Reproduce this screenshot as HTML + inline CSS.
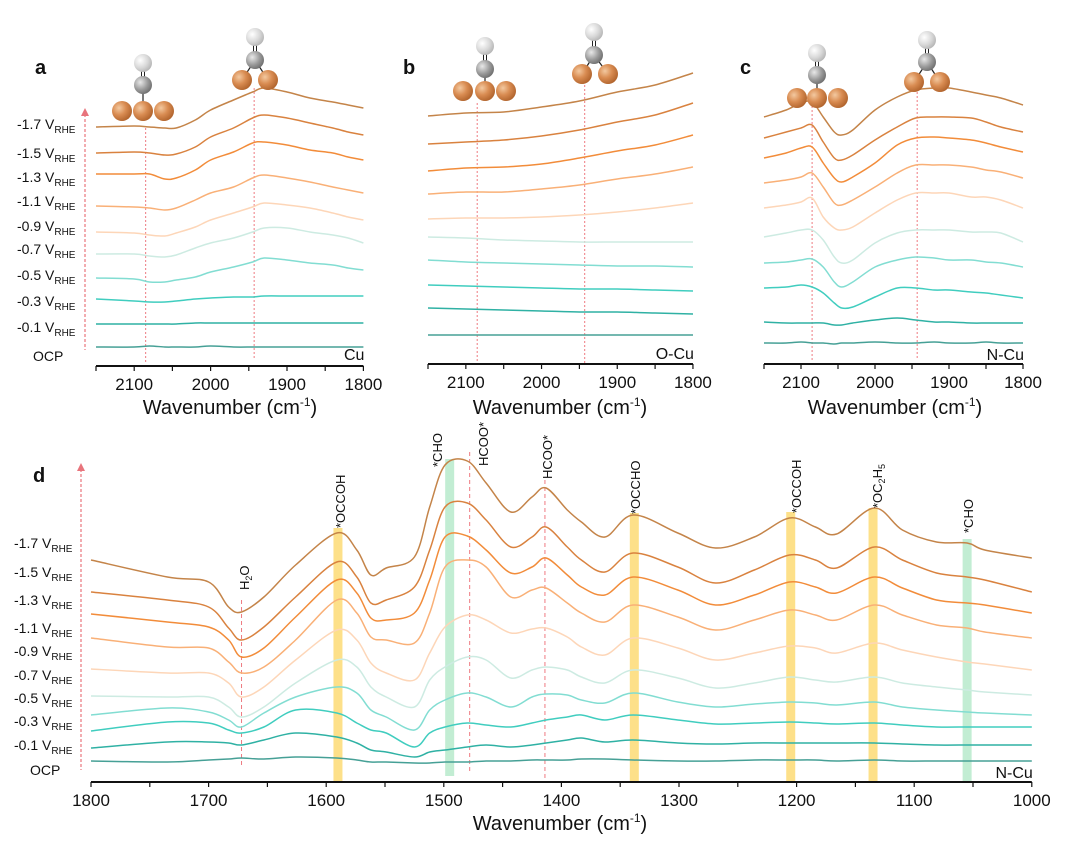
<!DOCTYPE html>
<html><head><meta charset="utf-8">
<style>
html,body{margin:0;padding:0;background:#fff;}
svg{display:block;font-family:"Liberation Sans",Arial,sans-serif;}
</style></head>
<body>
<svg id="fig" width="1080" height="844" viewBox="0 0 1080 844" xmlns="http://www.w3.org/2000/svg">
<defs>
<radialGradient id="cuG" cx="0.35" cy="0.35" r="0.7"><stop offset="0" stop-color="#f3c9a0"/><stop offset="0.5" stop-color="#d98c52"/><stop offset="1" stop-color="#b0632c"/></radialGradient>
<radialGradient id="cG" cx="0.35" cy="0.35" r="0.7"><stop offset="0" stop-color="#e8e8e8"/><stop offset="0.6" stop-color="#9a9a9a"/><stop offset="1" stop-color="#6e6e6e"/></radialGradient>
<radialGradient id="oG" cx="0.35" cy="0.35" r="0.7"><stop offset="0" stop-color="#ffffff"/><stop offset="0.6" stop-color="#d8d8d8"/><stop offset="1" stop-color="#b5b5b5"/></radialGradient>
</defs>
<g id="layer"></g>
</svg>
<script>
// ---------- DATA ----------
const seriesNames = ["-1.7","-1.5","-1.3","-1.1","-0.9","-0.7","-0.5","-0.3","-0.1","OCP"];
const seriesColors = ["#c48449","#d9823f","#f28c3a","#f9b077","#fdd6b8","#cdebe2","#82ddd2","#40cdbf","#2fb1a4","#46a096"];

// panel a (Cu)
const aWaves = [2150,2100,2080,2060,2045,2020,2000,1970,1945,1930,1900,1870,1840,1820,1800];
const aS17 = [239,240,239,238,238,246,256,266,274,278,274,268,264,261,258];
const aS15 = [213,214,213,211,212,219,229,238,248,251,248,243,238,234,231];
const aS13 = [192,192,192,187,188,196,206,214,223,224,221,216,213,209,206];
const aS11 = [160,159,158,156,158,166,173,179,188,191,188,184,179,176,173];
const aS09 = [134,133,131,130,133,139,146,153,159,163,161,158,153,149,146];
const aS07 = [112,112,110,109,111,118,123,128,134,138,138,134,131,128,123];
const aS05 = [88,87,84,84,86,89,94,99,104,108,106,103,101,98,96];
const aS03 = [67,65,64,64,65,67,68,69,69,70,70,70,70,70,70];
const aS01 = [42,42,42,42,42,43,43,43,43,43,43,43,43,43,43];
const aOCP = [19,19,20,19,19,19,20,19,19,19,19,19,19,19,19];

// panel b (O-Cu)
const bWaves = [2150,2100,2050,2000,1950,1900,1850,1800];
const bS17 = [248,251,252,257,263,272,279,291];
const bS15 = [220,222,224,228,234,242,249,261];
const bS13 = [193,196,197,200,206,213,219,229];
const bS11 = [170,172,172,175,179,185,190,197];
const bS09 = [145,146,146,147,149,152,156,161];
const bS07 = [127,126,124,123,122,122,122,122];
const bS05 = [104,102,101,100,99,98,98,97];
const bS03 = [79,78,77,76,75,75,74,73];
const bS01 = [56,55,54,53,52,52,51,50];
const bOCP = [29,29,29,29,29,29,29,29];

// panel c (N-Cu)
const cWaves = [2150,2120,2100,2085,2070,2055,2045,2030,2000,1970,1945,1920,1900,1870,1850,1830,1800];
const cS17 = [247,254,261,262,247,232,229,234,254,267,274,276,276,272,269,266,259];
const cS15 = [226,232,236,239,222,206,204,209,224,237,246,247,247,246,242,237,232];
const cS13 = [206,211,216,217,201,186,182,187,201,219,226,227,226,224,221,217,212];
const cS11 = [181,184,187,191,177,161,159,164,177,191,199,199,199,197,194,192,186];
const cS09 = [156,159,162,166,147,136,134,137,151,164,171,171,171,167,167,164,156];
const cS07 = [127,131,134,134,124,107,101,104,121,131,134,134,134,132,132,131,122];
const cS05 = [101,102,104,105,97,82,77,82,97,104,107,106,104,104,102,101,97];
const cS03 = [76,77,79,77,71,61,56,57,67,76,76,74,74,72,71,69,66];
const cS01 = [42,41,41,41,41,39,39,41,44,46,44,42,42,41,41,41,41];
const cOCP = [21,21,22,21,21,20,21,21,22,21,21,22,21,21,22,21,21];

// panel d (N-Cu, 1800-1000)
const dWaves = [1800,1735,1700,1683,1672,1653,1626,1591,1574,1562,1549,1525,1512,1499,1480,1464,1443,1425,1413,1395,1383,1363,1339,1301,1269,1236,1206,1184,1166,1134,1110,1081,1055,1040,1000];
const dS17 = [222,205,200,175,170,185,217,249,232,207,214,225,275,317,321,299,270,285,294,272,260,245,267,249,234,245,264,255,248,274,252,240,239,232,224];
const dS15 = [190,182,175,154,142,155,185,220,205,179,182,195,232,275,279,262,235,245,255,235,222,210,229,215,199,212,227,222,214,235,222,209,205,202,190];
const dS13 = [168,160,155,142,125,134,165,202,189,164,162,169,202,245,246,232,209,215,224,207,195,187,205,192,177,187,200,195,189,205,194,182,179,177,169];
const dS11 = [144,135,134,120,109,115,142,182,169,145,142,139,169,215,222,215,185,192,194,179,169,160,177,165,152,162,172,167,162,177,167,157,154,150,144];
const dS09 = [113,109,109,99,85,95,122,152,142,119,109,102,129,155,167,162,149,153,154,145,135,127,144,134,122,129,136,134,129,139,132,125,120,118,112];
const dS07 = [86,85,85,75,65,75,99,122,115,95,85,75,102,115,125,122,104,112,115,112,105,99,112,104,94,99,105,102,100,105,99,95,92,90,87];
const dS05 = [67,74,70,62,55,69,85,95,89,72,65,52,72,82,89,85,75,85,88,87,82,79,89,80,75,78,80,79,77,80,75,72,70,69,67];
const dS03 = [51,60,59,52,49,55,72,69,59,52,49,35,49,55,59,57,55,59,62,65,67,62,67,62,58,59,60,59,58,59,57,55,55,55,55];
const dS01 = [34,40,40,39,37,42,49,45,39,32,30,25,30,32,35,37,35,37,39,42,44,40,42,39,38,39,39,39,39,39,38,37,37,37,37];
const dOCP = [21,20,22,23,24,23,25,24,22,20,20,19,19,20,20,21,21,22,22,22,23,23,22,21,21,22,22,22,21,22,21,21,21,21,21];

const topTicks = [2100,2000,1900,1800];
const dTicks = [1800,1700,1600,1500,1400,1300,1200,1100,1000];
const dBandsOrange = [1590,1338,1205,1135];
const dBandsGreen = [1495,1055];
const dDashed = [1672,1478,1414];

// ---------- DRAWING ----------
const NS = "http://www.w3.org/2000/svg";
const layer = document.getElementById("layer");
function mk(tag, attrs, parent){
  const e = document.createElementNS(NS, tag);
  for (const k in attrs) e.setAttribute(k, attrs[k]);
  (parent||layer).appendChild(e);
  return e;
}
function smoothPath(pts){
  let d = "M" + pts[0][0].toFixed(1) + "," + pts[0][1].toFixed(1);
  for (let i=0;i<pts.length-1;i++){
    const p0 = pts[Math.max(0,i-1)], p1 = pts[i], p2 = pts[i+1], p3 = pts[Math.min(pts.length-1,i+2)];
    const c1x = p1[0]+(p2[0]-p0[0])/6, c1y = p1[1]+(p2[1]-p0[1])/6;
    const c2x = p2[0]-(p3[0]-p1[0])/6, c2y = p2[1]-(p3[1]-p1[1])/6;
    d += " C"+c1x.toFixed(1)+","+c1y.toFixed(1)+" "+c2x.toFixed(1)+","+c2y.toFixed(1)+" "+p2[0].toFixed(1)+","+p2[1].toFixed(1);
  }
  return d;
}

function panel(cfg){
  const g = mk("g", {});
  
  
  const xf = w => cfg.x0 + (cfg.w0 - w) * cfg.kx;
  const yf = v => cfg.axisY - v;
  // bands
  (cfg.orange||[]).forEach(b => {
    const r = mk("rect", {x: xf(b)-4.5, y: b===1590?528:(b===1338?513:(b===1205?512:508)), width: 9, height: 0, fill:"#fcd561", opacity:0.75}, g);
    r.setAttribute("height", cfg.axisY - parseFloat(r.getAttribute("y")));
    
    
  });
  (cfg.green||[]).forEach(b => {
    const top = b===1495?459:539;
    const r = mk("rect", {x: xf(b)-4.5, y: top, width: 9, height: (b===1495?cfg.axisY-6:cfg.axisY)-top, fill:"#a8e5c0", opacity:0.7}, g);
    
    
  });
  // dashed reference lines
  (cfg.dashed||[]).forEach(ln => {
    const l = mk("line", {x1: xf(ln[0]), x2: xf(ln[0]), y1: ln[1], y2: ln[2], stroke:"#ee7a80", "stroke-width":1, "stroke-dasharray": cfg.dash||"2,2"}, g);
    
    
  });
  // series
  cfg.series.forEach((vals, i) => {
    const pts = cfg.waves.map((w, j) => [xf(w), yf(vals[j])]);
    const p = mk("path", {d: smoothPath(pts), fill:"none", stroke: seriesColors[i], "stroke-width": 1.5}, g);
    
    
  });
  // axis
  const ax = mk("line", {x1: xf(cfg.wStart), x2: xf(cfg.wEnd), y1: cfg.axisY, y2: cfg.axisY, stroke:"#111", "stroke-width":2}, g);
  
  
  for (let w = cfg.wStart; w >= cfg.wEnd; w -= 50){
    const t = mk("line", {x1: xf(w), x2: xf(w), y1: cfg.axisY, y2: cfg.axisY + 5, stroke:"#111", "stroke-width":1.2}, g);
    
    
  }
  cfg.ticks.forEach(w => {
    const t = mk("text", {x: xf(w), y: cfg.axisY + 24, "text-anchor":"middle", "font-size": 17, fill:"#111"}, g);
    t.textContent = w;
    
    
  });
  const tt = mk("text", {x: cfg.titleX, y: cfg.titleY, "text-anchor":"middle", "font-size": 20, fill:"#111"}, g);
  
  
  tt.appendChild(document.createTextNode("Wavenumber (cm"));
  const sup = mk("tspan", {"font-size": 12, dy: -8}, tt); sup.textContent = "-1";
  const cl = mk("tspan", {dy: 8}, tt); cl.textContent = ")";
  // sample label
  const sl = mk("text", {x: xf(cfg.wEnd)+1, y: cfg.sampleY, "text-anchor":"end", "font-size": 16, fill:"#111"}, g);
  sl.textContent = cfg.sample;
  
  
  // letter
  const lt = mk("text", {x: cfg.letterX, y: cfg.letterY, "font-size": 20, "font-weight":"bold", fill:"#111"}, g);
  lt.textContent = cfg.letter;
  
  
  return {g, xf};
}

function potentialLabels(x, ys, ocpX, arrowX, arrowTop, arrowBot, name){
  const g = mk("g", {});
  
  
  seriesNames.forEach((n, i) => {
    if (n === "OCP"){
      const t = mk("text", {x: ocpX, y: ys[i]+5, "font-size": 14, fill:"#111"}, g);
      t.textContent = "OCP";
      
      
    } else {
      const t = mk("text", {x: x, y: ys[i]+5, "font-size": 14, fill:"#111"}, g);
      t.appendChild(document.createTextNode(n + " V"));
      const s = mk("tspan", {"font-size": 10, dy: 4}, t); s.textContent = "RHE";
      
      
    }
  });
  const l = mk("line", {x1: arrowX, x2: arrowX, y1: arrowTop+6, y2: arrowBot, stroke:"#e8747c", "stroke-width":1.2, "stroke-dasharray":"3,2"}, g);
  
  
  const h = mk("path", {d: `M${arrowX-4},${arrowTop+8} L${arrowX},${arrowTop} L${arrowX+4},${arrowTop+8} Z`, fill:"#e8747c"}, g);
  
  
}

function atom(g, cx, cy, r, grad){
  const c = mk("circle", {cx, cy, r, fill: "url(#"+grad+")"}, g);
  
  
}
function linearCO(cuXs, cuY, cx, cY, oY, name){
  const g = mk("g", {});
  
  
  mk("line", {x1: cx, x2: cx, y1: cY, y2: cuY, stroke:"#222", "stroke-width":1.2}, g);
  mk("line", {x1: cx-1.5, x2: cx-1.5, y1: oY, y2: cY, stroke:"#222", "stroke-width":1}, g);
  mk("line", {x1: cx+1.5, x2: cx+1.5, y1: oY, y2: cY, stroke:"#222", "stroke-width":1}, g);
  atom(g, cx, oY, 9, "oG");
  atom(g, cx, cY, 9, "cG");
  cuXs.forEach(x => atom(g, x, cuY, 10, "cuG"));
}
function bridgeCO(cu1, cu2, cuY, cx, cY, oY, name){
  const g = mk("g", {});
  
  
  mk("line", {x1: cx, x2: cu1, y1: cY, y2: cuY, stroke:"#222", "stroke-width":1.2}, g);
  mk("line", {x1: cx, x2: cu2, y1: cY, y2: cuY, stroke:"#222", "stroke-width":1.2}, g);
  mk("line", {x1: cx-1.5, x2: cx-1.5, y1: oY, y2: cY, stroke:"#222", "stroke-width":1}, g);
  mk("line", {x1: cx+1.5, x2: cx+1.5, y1: oY, y2: cY, stroke:"#222", "stroke-width":1}, g);
  atom(g, cx, oY, 9, "oG");
  atom(g, cx, cY, 9, "cG");
  atom(g, cu1, cuY, 10, "cuG");
  atom(g, cu2, cuY, 10, "cuG");
}

// Panel a
panel({name:"panel-a-cu", letter:"a", letterX:35, letterY:74, x0:96, w0:2150, kx:0.764, axisY:366,
  wStart:2150, wEnd:1800, ticks: topTicks, titleX:230, titleY:414, sample:"Cu", sampleY:360,
  waves: aWaves, series:[aS17,aS15,aS13,aS11,aS09,aS07,aS05,aS03,aS01,aOCP],
  dashed:[[2085,128,362],[1943,88,358]]});
potentialLabels(17, [124,153,177,201,226,249,275,301,327,356], 33, 85, 108, 350, "potential-labels-a");
linearCO([122,143,164],111,143,85,63,"linear-co-icon-a");
bridgeCO(242,268,80,255,60,37,"bridge-co-icon-a");

// Panel b
panel({name:"panel-b-ocu", letter:"b", letterX:403, letterY:74, x0:428, w0:2150, kx:0.757, axisY:364,
  wStart:2150, wEnd:1800, ticks: topTicks, titleX:560, titleY:414, sample:"O-Cu", sampleY:359,
  waves: bWaves, series:[bS17,bS15,bS13,bS11,bS09,bS07,bS05,bS03,bS01,bOCP],
  dashed:[[2085,103,363],[1943,85,363]]});
linearCO([463,485,506],91,485,69,46,"linear-co-icon-b");
bridgeCO(582,608,74,594,55,32,"bridge-co-icon-b");

// Panel c
panel({name:"panel-c-ncu", letter:"c", letterX:740, letterY:74, x0:764, w0:2150, kx:0.74, axisY:364,
  wStart:2150, wEnd:1800, ticks: topTicks, titleX:895, titleY:414, sample:"N-Cu", sampleY:360,
  waves: cWaves, series:[cS17,cS15,cS13,cS11,cS09,cS07,cS05,cS03,cS01,cOCP],
  dashed:[[2085,98,360],[1943,80,360]]});
linearCO([797,817,838],98,817,75,53,"linear-co-icon-c");
bridgeCO(914,940,82,927,62,40,"bridge-co-icon-c");

// Panel d
const pd = panel({name:"panel-d-ncu", letter:"d", letterX:33, letterY:482, x0:91, w0:1800, kx:1.176, axisY:782,
  wStart:1800, wEnd:1000, ticks: dTicks, titleX:560, titleY:830, sample:"N-Cu", sampleY:778, dash:"4,3",
  waves: dWaves, series:[dS17,dS15,dS13,dS11,dS09,dS07,dS05,dS03,dS01,dOCP],
  orange: dBandsOrange, green: dBandsGreen,
  dashed: [[dDashed[0],600,767],[dDashed[1],452,773],[dDashed[2],480,778]]});
potentialLabels(14, [543,572,600,628,651,675,698,721,745,770], 30, 81, 463, 770, "potential-labels-d");

// peak annotations (rotated)
function rotLabel(bx, by, parts, name){
  const t = mk("text", {transform:`translate(${bx},${by}) rotate(-90)`, "font-size": 13, fill:"#111"});
  parts.forEach(p => {
    const s = mk("tspan", p.sub ? {"font-size": 9, dy: 3} : (p.after ? {dy: -3} : {}), t);
    s.textContent = p.t;
  });
  
  
}
rotLabel(345, 528, [{t:"*OCCOH"}], "label-occoh-1590");
rotLabel(249, 590, [{t:"H"},{t:"2",sub:true},{t:"O",after:true}], "label-h2o");
rotLabel(442, 467, [{t:"*CHO"}], "label-cho-1495");
rotLabel(488, 466, [{t:"HCOO*"}], "label-hcoo-1478");
rotLabel(552, 479, [{t:"HCOO*"}], "label-hcoo-1414");
rotLabel(640, 514, [{t:"*OCCHO"}], "label-occho-1338");
rotLabel(801, 513, [{t:"*OCCOH"}], "label-occoh-1205");
rotLabel(882, 508, [{t:"*OC"},{t:"2",sub:true},{t:"H",after:true},{t:"5",sub:true}], "label-oc2h5");
rotLabel(973, 533, [{t:"*CHO"}], "label-cho-1055");
</script>
</body></html>
